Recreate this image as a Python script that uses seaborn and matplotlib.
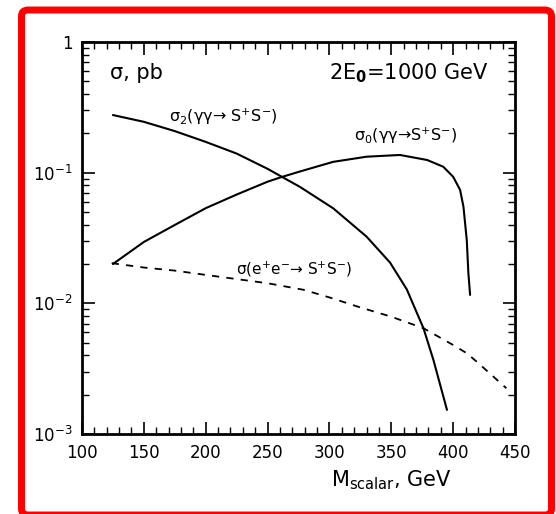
import seaborn as sns
import pandas as pd
import matplotlib.pyplot as plt
import numpy as np
from matplotlib.patches import FancyBboxPatch
from matplotlib.ticker import FixedLocator, FixedFormatter, LogLocator, NullFormatter, MultipleLocator

# sigma_2(gamma gamma -> S+S-)
m_sig2 = [125, 150, 175, 200, 225, 250, 261.5, 276, 303, 330, 349, 362.5, 376, 384, 395]
sig2 = [0.276, 0.245, 0.208, 0.172, 0.140, 0.107, 0.093, 0.078, 0.0534, 0.0324, 0.0205,
        0.0128, 0.00645, 0.0037, 0.00153]

# sigma_0(gamma gamma -> S+S-)
m_sig0 = [125, 150, 175, 200, 225, 250, 261.5, 276, 303, 330, 357, 379, 392, 400,
          405.6, 408.3, 411, 412.3, 413.7]
sig0 = [0.020, 0.0295, 0.0398, 0.0535, 0.068, 0.0853, 0.0927, 0.102, 0.121, 0.1325,
        0.1366, 0.125, 0.111, 0.093, 0.0738, 0.055, 0.0305, 0.017, 0.0116]

# sigma(e+e- -> S+S-)
m_ee = [124, 150, 175, 200, 250, 279, 300, 325, 350, 376, 400, 411, 419, 443]
sig_ee = [0.0203, 0.0188, 0.0178, 0.0165, 0.01425, 0.0127, 0.0111, 0.0093, 0.0079,
          0.00645, 0.0048, 0.00415, 0.00358, 0.00224]

x_ticks = [100, 150, 200, 250, 300, 350, 400, 450]
y_ticks = [1e-3, 1e-2, 1e-1, 1]
y_labels = ['$10^{-3}$', '$10^{-2}$', '$10^{-1}$', '1']

sns.set_style("ticks")
plt.rcParams['font.family'] = ['DejaVu Sans']
plt.rcParams['text.color'] = 'black'

fig = plt.figure(figsize=(5.56, 5.14), dpi=100)
ax = fig.add_axes([0.1475, 0.1556, 0.7788, 0.7627])

df2 = pd.DataFrame({'m': m_sig2, 's': sig2})
df0 = pd.DataFrame({'m': m_sig0, 's': sig0})
dfe = pd.DataFrame({'m': m_ee, 's': sig_ee})
sns.lineplot(data=df2, x='m', y='s', ax=ax, color='black', lw=1.5, sort=False,
             solid_joinstyle='round')
sns.lineplot(data=df0, x='m', y='s', ax=ax, color='black', lw=1.5, sort=False,
             solid_joinstyle='round')
sns.lineplot(data=dfe, x='m', y='s', ax=ax, color='black', lw=1.3, sort=False,
             linestyle=(0, (4, 4)))

ax.set_yscale('log')
ax.set_xlim(100, 450)
ax.set_ylim(1e-3, 1)
ax.xaxis.set_major_locator(FixedLocator(x_ticks))
ax.xaxis.set_minor_locator(MultipleLocator(10))
ax.yaxis.set_major_locator(FixedLocator(y_ticks))
ax.yaxis.set_major_formatter(FixedFormatter(y_labels))
ax.yaxis.set_minor_locator(LogLocator(base=10, subs=np.arange(2, 10)))
ax.yaxis.set_minor_formatter(NullFormatter())
ax.tick_params(which='both', direction='in', top=True, right=True, colors='black',
               labelsize=12, labelcolor='black')
ax.tick_params(which='major', length=9, width=1.2, pad=7)
ax.tick_params(which='minor', length=5, width=1.0)
for s in ax.spines.values():
    s.set_linewidth(2)
    s.set_color('black')
ax.set_xlabel('')
ax.set_ylabel('')

ax.text(0.065, 0.92, 'σ, pb', transform=ax.transAxes, fontsize=15, va='center',
        color='black')
ax.text(0.94, 0.92, '2E$_\\mathbf{0}$=1000 GeV', transform=ax.transAxes, fontsize=15,
        va='center', ha='right', color='black')
ax.text(0.20, 0.81, 'σ$_2$(γγ→ S$^{+}$S$^{-}$)', transform=ax.transAxes, fontsize=11.5,
        va='center', color='black')
ax.text(0.627, 0.76, 'σ$_0$(γγ→S$^{+}$S$^{-}$)', transform=ax.transAxes, fontsize=11.5,
        va='center', color='black')
ax.text(0.355, 0.42, 'σ(e$^{+}$e$^{-}$→ S$^{+}$S$^{-}$)', transform=ax.transAxes,
        fontsize=11, va='center', color='black')
fig.text(0.595, 0.066, 'M$_{\\mathregular{scalar}}$, GeV', fontsize=15, va='center',
         color='black')

frame = FancyBboxPatch((21.5 / 556, -1 / 514), 530 / 556, 505 / 514,
                       boxstyle='round,pad=0,rounding_size=0.012',
                       transform=fig.transFigure, fill=False, edgecolor='#ff0000',
                       linewidth=5, clip_on=False)
fig.patches.append(frame)

fig.savefig('out.png', dpi=100)
